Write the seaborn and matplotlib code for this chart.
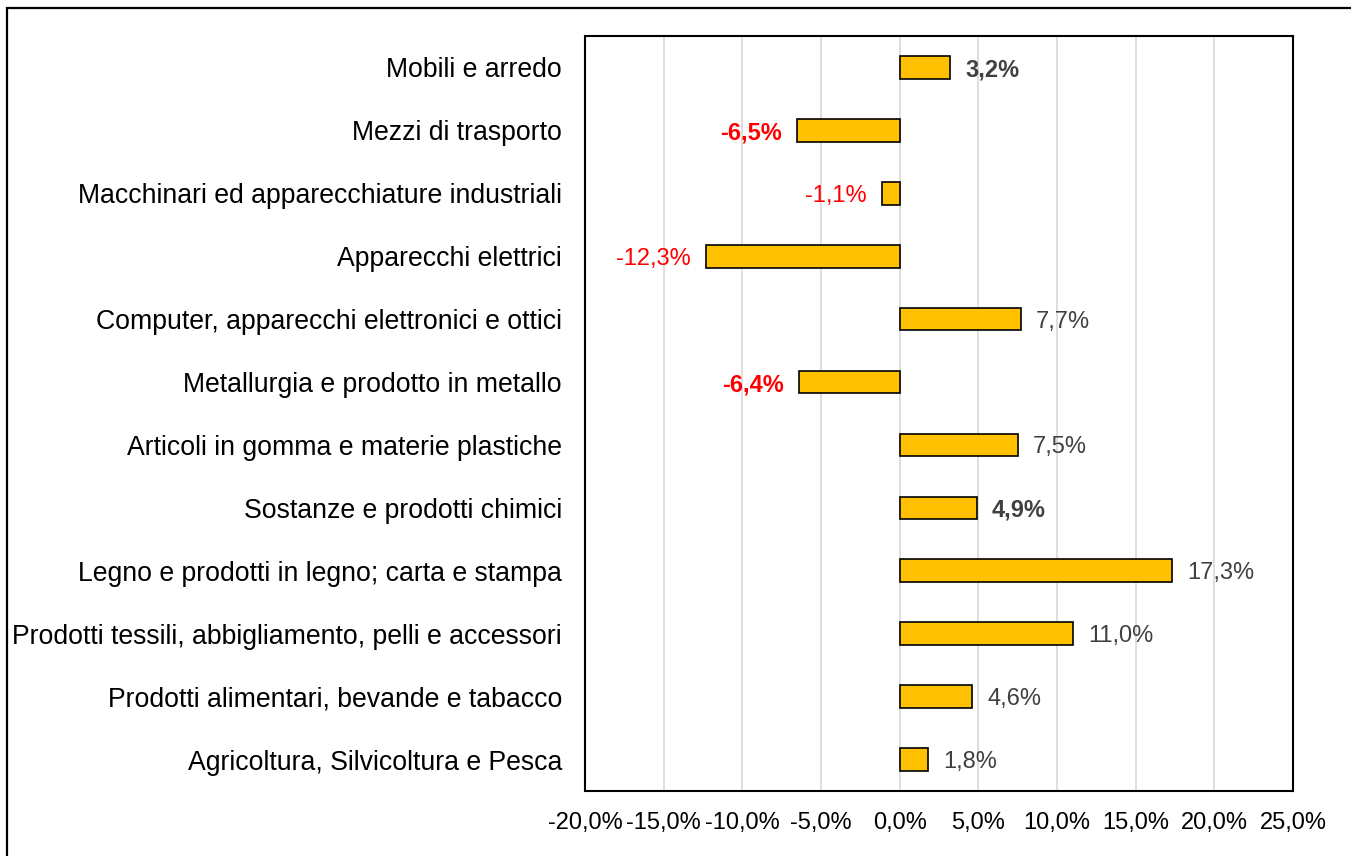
import numpy as np
import pandas as pd
import matplotlib
matplotlib.use('Agg')
import matplotlib.pyplot as plt
import seaborn as sns
from matplotlib.patches import Rectangle
from matplotlib.ticker import FuncFormatter

settori = [
    'Mobili e arredo',
    'Mezzi di trasporto',
    'Macchinari ed apparecchiature industriali',
    'Apparecchi elettrici',
    'Computer, apparecchi elettronici e ottici',
    'Metallurgia e prodotto in metallo',
    'Articoli in gomma e materie plastiche',
    'Sostanze e prodotti chimici',
    'Legno e prodotti in legno; carta e stampa',
    'Prodotti tessili, abbigliamento, pelli e accessori',
    'Prodotti alimentari, bevande e tabacco',
    'Agricoltura, Silvicoltura e Pesca',
]
variazione = [3.2, -6.5, -1.1, -12.3, 7.7, -6.4, 7.5, 4.9, 17.3, 11.0, 4.6, 1.8]
grassetto = [True, True, False, False, False, True, False, True, False, False, False, False]

dati = pd.DataFrame({'settore': settori, 'var': variazione})

sns.set_style('white')
plt.rcParams['font.family'] = ['Liberation Sans', 'DejaVu Sans']

fig = plt.figure(figsize=(13.51, 8.56), dpi=100)
ax = fig.add_axes([585 / 1351, 1 - 791 / 856, (1293 - 585) / 1351, (791 - 36) / 856])

sns.barplot(data=dati, x='var', y='settore', orient='h', color='#FFC000',
            edgecolor='black', linewidth=1.2, width=0.36, saturation=1, ax=ax)

ax.set_xlim(-20, 25)
ax.set_xticks(np.arange(-20, 26, 5))
ax.xaxis.set_major_formatter(FuncFormatter(lambda v, p: f'{v:.1f}%'.replace('.', ',')))
ax.grid(axis='x', color='#d9d9d9', linewidth=1.2)
ax.set_axisbelow(True)
ax.set_xlabel('')
ax.set_ylabel('')
ax.tick_params(axis='x', labelsize=17, colors='black', length=0, pad=15)
ax.tick_params(axis='y', labelsize=19.2, colors='black', length=0, pad=16.5)
for s in ax.spines.values():
    s.set_visible(True)
    s.set_color('black')
    s.set_linewidth(1.5)

for i, (v, b) in enumerate(zip(variazione, grassetto)):
    colore = '#FF0000' if v < 0 else '#404040'
    testo = f'{v:.1f}%'.replace('.', ',')
    ax.annotate(testo, (v, i), xytext=(11 if v >= 0 else -11, 0), textcoords='offset points',
                ha='left' if v >= 0 else 'right', va='center_baseline', fontsize=17,
                color=colore, fontweight='bold' if b else 'normal')

fig.add_artist(Rectangle((7 / 1351, -0.05), 1.0, 1.05 - 8 / 856, transform=fig.transFigure,
                         fill=False, edgecolor='black', linewidth=1.6, clip_on=False))

fig.savefig('out.png', dpi=100)
